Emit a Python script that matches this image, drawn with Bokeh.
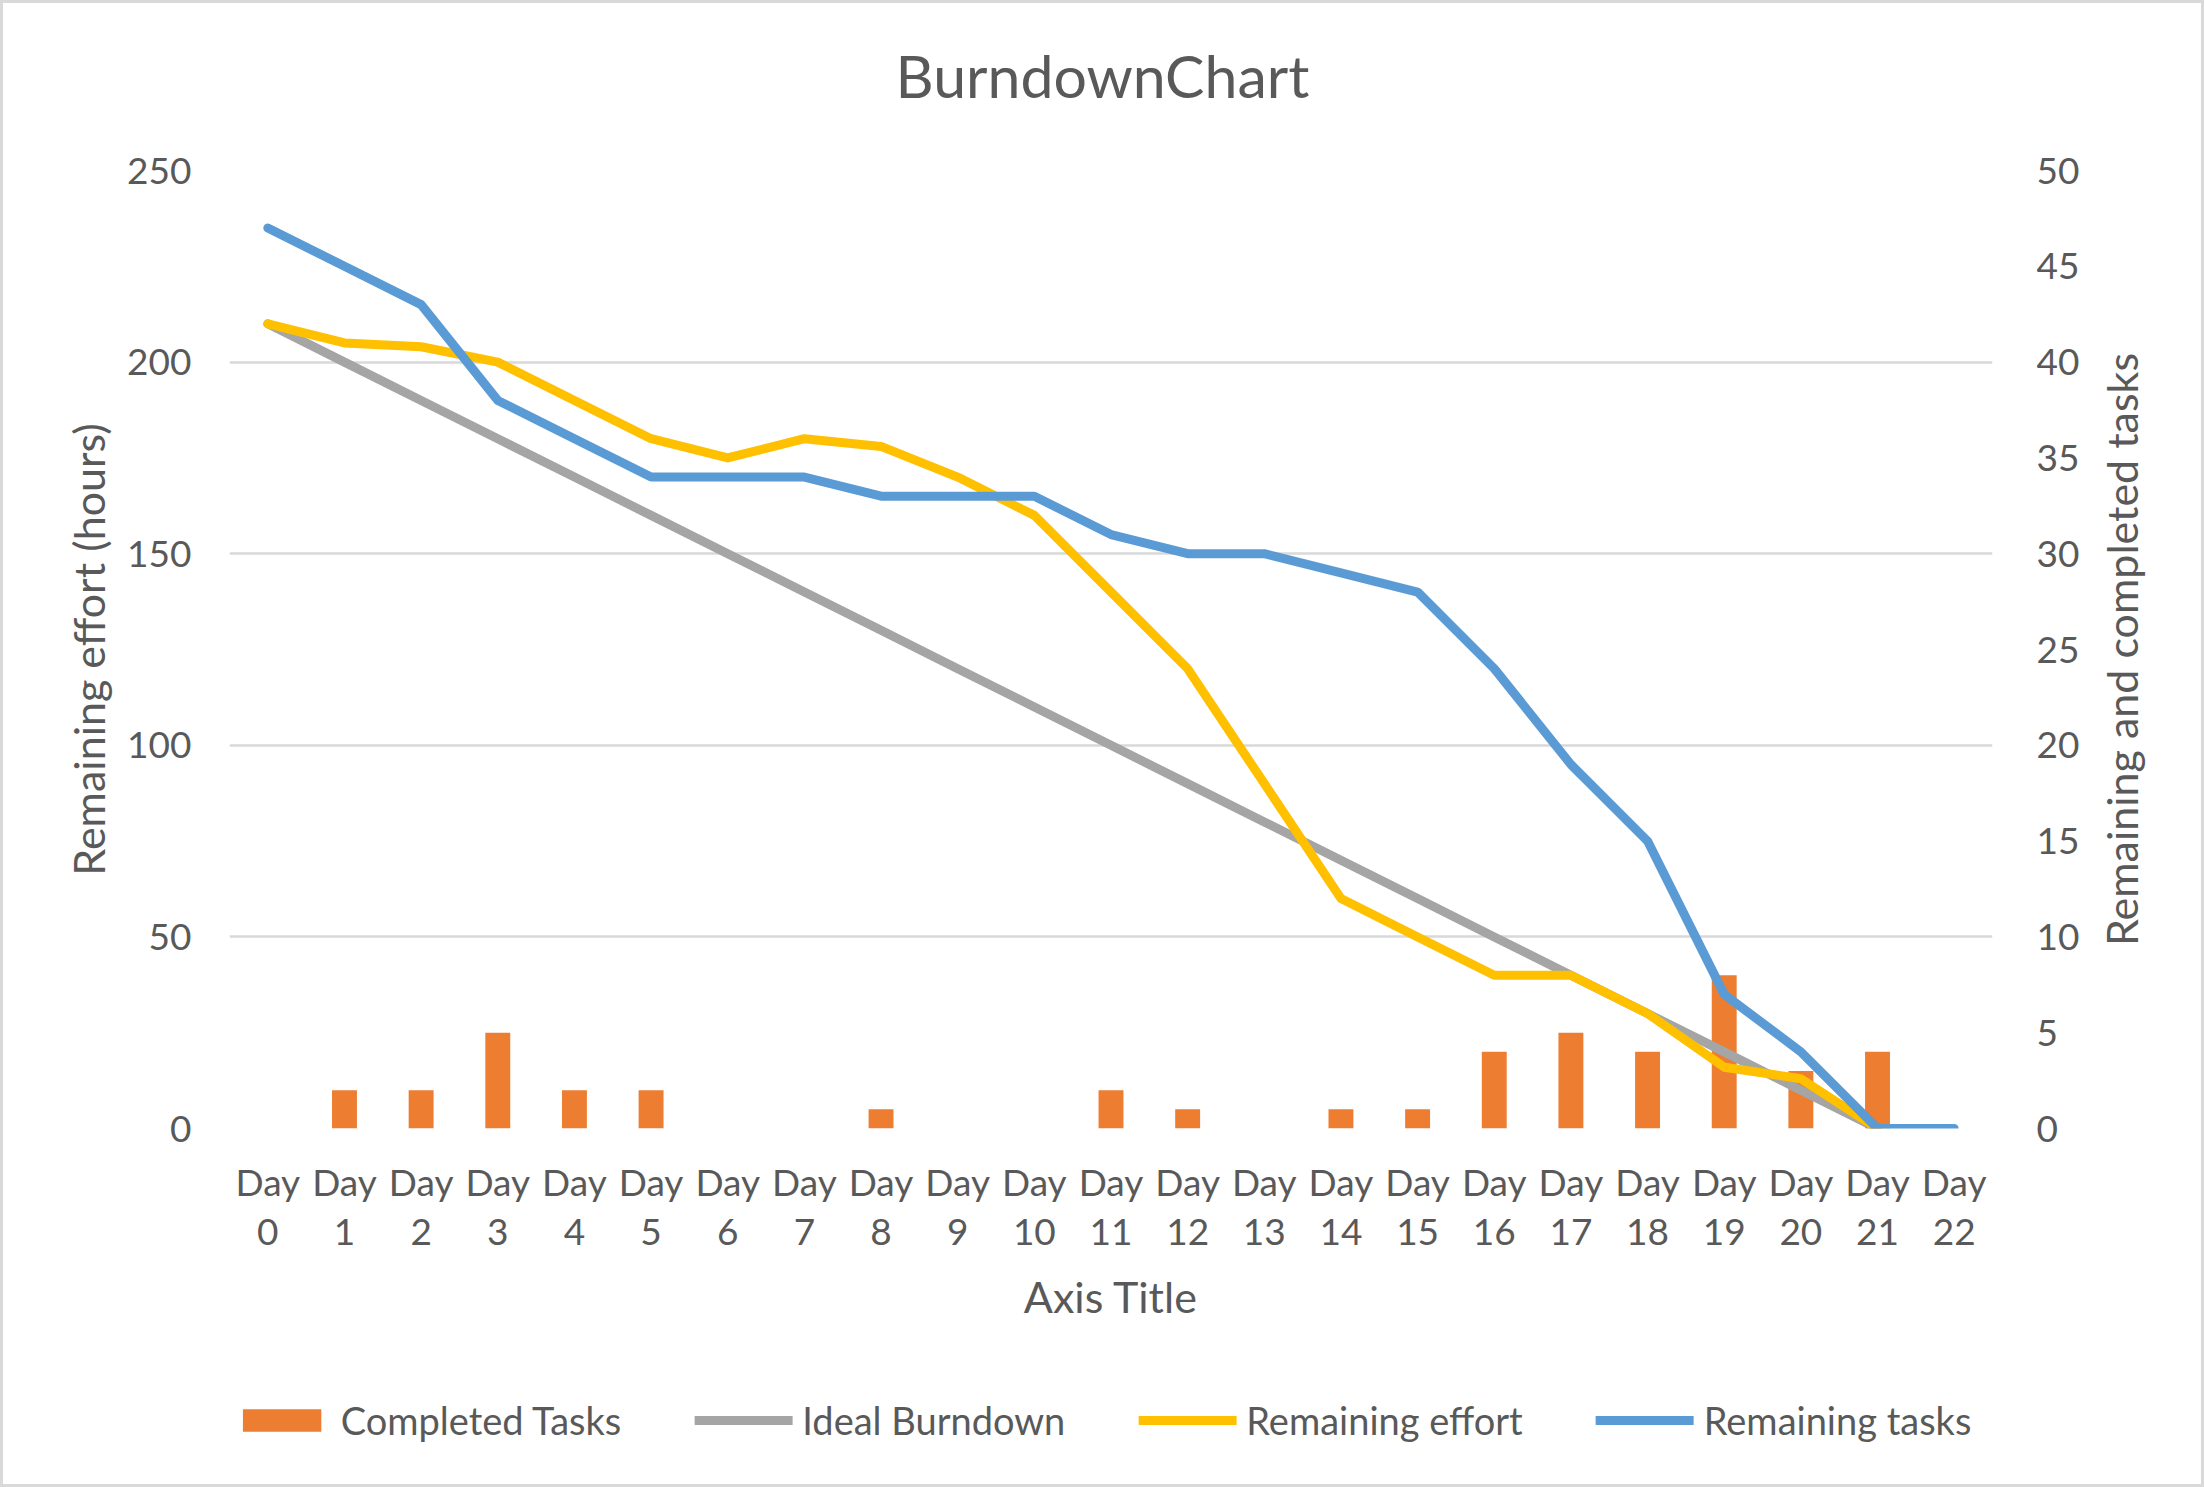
from bokeh.plotting import figure
from bokeh.layouts import column, row
from bokeh.models import (Range1d, LinearAxis, CategoricalAxis, FactorRange,
                          Legend, LegendItem, FixedTicker, Label,
                          CustomJSTickFormatter)
from bokeh.embed import file_html
from bokeh.resources import INLINE

# ---- data ----
days = ["Day 0", "Day 1", "Day 2", "Day 3", "Day 4", "Day 5", "Day 6", "Day 7",
        "Day 8", "Day 9", "Day 10", "Day 11", "Day 12", "Day 13", "Day 14",
        "Day 15", "Day 16", "Day 17", "Day 18", "Day 19", "Day 20", "Day 21",
        "Day 22"]
completed_tasks = [0, 2, 2, 5, 2, 2, 0, 0, 1, 0, 0, 2, 1, 0, 1, 1, 4, 5, 4, 8, 3, 4, 0]
ideal_burndown = [210, 200, 190, 180, 170, 160, 150, 140, 130, 120, 110, 100,
                  90, 80, 70, 60, 50, 40, 30, 20, 10, 0]
remaining_effort = [210, 205, 204, 200, 190, 180, 175, 180, 178, 170, 160, 140,
                    120, 90, 60, 50, 40, 40, 30, 16, 13, 0]
remaining_tasks = [47, 45, 43, 38, 36, 34, 34, 34, 33, 33, 33, 31, 30, 30, 29,
                   28, 24, 19, 15, 7, 4, 0, 0]
left_ticks = [0, 50, 100, 150, 200, 250]
right_ticks = [0, 5, 10, 15, 20, 25, 30, 35, 40, 45, 50]
chart_title = "BurndownChart"
left_title = "Remaining effort (hours)"
right_title = "Remaining and completed tasks"
x_title = "Axis Title"

TXT = "#595959"
FONT = "Lato"
TICK_SIZE = "37px"
TITLE_SIZE = "43px"
C_BAR, C_IDEAL, C_EFFORT, C_TASKS = "#ED7D31", "#A5A5A5", "#FFC000", "#5B9BD5"
LW = 9

# ---- layout geometry (page pixels; content starts inside a 3px border) ----
B = 3
PAGE_W, PAGE_H = 2204, 1487
IN_W, IN_H = PAGE_W - 2 * B, PAGE_H - 2 * B
Y_TOP = 123            # bottom of title strip
Y_LEG = 1356           # top of legend strip
X_RT = 2082            # left of right-title strip
FR_L, FR_R, FR_T, FR_B = 229, 1996, 170, 1128
W_MAIN = X_RT - B
H_MAIN = Y_LEG - Y_TOP


def blank(width, height, **kw):
    f = figure(width=width, height=height, x_range=Range1d(0, 1),
               y_range=Range1d(0, 1), output_backend="svg",
               toolbar_location=None, x_axis_type=None, **kw)
    f.outline_line_color = None
    f.grid.visible = False
    f.background_fill_color = "white"
    f.border_fill_color = "white"
    return f


# title strip
pt = blank(IN_W, Y_TOP - B, y_axis_type=None, min_border=0, min_border_left=0,
           min_border_right=0, min_border_top=0, min_border_bottom=0)
pt.add_layout(Label(x=1102 - B, y=Y_TOP - 75, x_units="screen", y_units="screen",
                    text=chart_title, text_align="center", text_baseline="middle",
                    text_font=FONT, text_font_size="59px", text_color=TXT))

# main chart
p = figure(width=W_MAIN, height=H_MAIN,
           x_range=FactorRange(factors=days, range_padding=0),
           y_range=Range1d(0, 250),
           output_backend="svg", toolbar_location=None,
           min_border_left=FR_L - B, min_border_right=X_RT - FR_R,
           min_border_top=FR_T - Y_TOP, min_border_bottom=Y_LEG - FR_B)
p.extra_y_ranges = {"tasks": Range1d(0, 50)}
p.outline_line_color = None
p.background_fill_color = "white"
p.border_fill_color = "white"

p.xgrid.grid_line_color = None
p.ygrid.ticker = FixedTicker(ticks=left_ticks)
p.ygrid.grid_line_color = "#D9D9D9"
p.ygrid.grid_line_width = 2.5


def style_axis(ax):
    ax.axis_line_color = None
    ax.major_tick_line_color = None
    ax.minor_tick_line_color = None
    ax.major_label_text_font = FONT
    ax.major_label_text_font_size = TICK_SIZE
    ax.major_label_text_color = TXT
    ax.axis_label_text_font = FONT
    ax.axis_label_text_font_size = TITLE_SIZE
    ax.axis_label_text_font_style = "normal"
    ax.axis_label_text_color = TXT


ya = p.yaxis[0]
style_axis(ya)
ya.ticker = FixedTicker(ticks=left_ticks)
ya.axis_label = left_title
ya.major_label_standoff = 32
ya.axis_label_standoff = 10

ra = LinearAxis(y_range_name="tasks", ticker=FixedTicker(ticks=right_ticks))
style_axis(ra)
ra.major_label_standoff = 38
p.add_layout(ra, "right")

xa = p.xaxis[0]
style_axis(xa)
xa.major_label_standoff = 24
xa.formatter = CustomJSTickFormatter(code="return tick.split(' ')[0];")

xa2 = CategoricalAxis(axis_label=x_title)
style_axis(xa2)
xa2.major_label_standoff = 6
xa2.axis_label_standoff = 23
xa2.formatter = CustomJSTickFormatter(code="return tick.split(' ')[1];")
p.add_layout(xa2, "below")

p.vbar(x=days, top=completed_tasks, width=0.325, y_range_name="tasks",
       fill_color=C_BAR, line_color=None)
p.line(x=days[:len(ideal_burndown)], y=ideal_burndown, line_color=C_IDEAL,
       line_width=LW, line_cap="round", line_join="round")
p.line(x=days[:len(remaining_effort)], y=remaining_effort, line_color=C_EFFORT,
       line_width=LW, line_cap="round", line_join="round")
p.line(x=days, y=remaining_tasks, y_range_name="tasks", line_color=C_TASKS,
       line_width=LW, line_cap="round", line_join="round")

# right-hand axis title strip: an empty axis whose label reads bottom-to-top
pr = blank(PAGE_W - B - X_RT, H_MAIN, min_border_left=64, min_border_right=0,
           min_border_top=FR_T - Y_TOP, min_border_bottom=Y_LEG - FR_B)
rt = pr.yaxis[0]
style_axis(rt)
rt.ticker = FixedTicker(ticks=[])
rt.major_label_standoff = 0
rt.major_tick_out = 0
rt.major_tick_in = 0
rt.axis_label = right_title
rt.axis_label_standoff = 0

# legend strip (legend swatches use off-range sample glyphs of the same style)
pl = blank(IN_W, PAGE_H - B - Y_LEG, y_axis_type=None, min_border=0,
           min_border_left=0, min_border_right=0, min_border_top=0,
           min_border_bottom=0)
l_bar = pl.vbar(x=[-5], top=[-5], width=0.3, fill_color=C_BAR, line_color=None)
l_ideal = pl.line(x=[-5, -4], y=[-5, -5], line_color=C_IDEAL, line_width=LW,
                  line_cap="round")
l_effort = pl.line(x=[-5, -4], y=[-5, -5], line_color=C_EFFORT, line_width=LW,
                   line_cap="round")
l_tasks = pl.line(x=[-5, -4], y=[-5, -5], line_color=C_TASKS, line_width=LW,
                  line_cap="round")
legend = Legend(items=[LegendItem(label="Completed Tasks", renderers=[l_bar]),
                       LegendItem(label="Ideal Burndown", renderers=[l_ideal]),
                       LegendItem(label="Remaining effort", renderers=[l_effort]),
                       LegendItem(label="Remaining tasks", renderers=[l_tasks])],
                orientation="horizontal", location="center",
                glyph_width=98, glyph_height=28, label_standoff=10,
                spacing=73, padding=0, margin=0,
                border_line_color=None, background_fill_alpha=0,
                label_text_font=FONT, label_text_font_size="38px",
                label_text_color=TXT)
pl.add_layout(legend)

layout = column(pt, row(p, pr, spacing=0), pl, spacing=0)
layout.styles = {"border": f"{B}px solid #D9D9D9", "box-sizing": "content-box"}

open("out.html", "w").write(file_html(layout, INLINE))
